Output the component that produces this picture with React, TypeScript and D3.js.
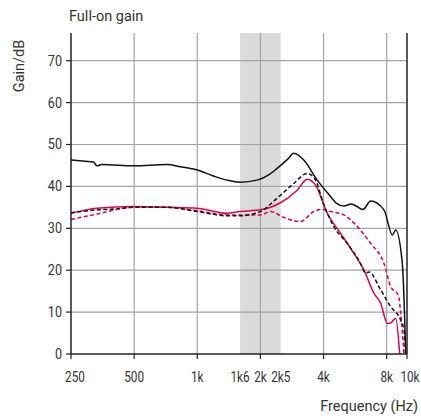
import React from 'react'
import * as d3 from 'd3'

// frequency (Hz), gain (dB)
const blackSolid: [number, number][] = [
  [250, 46.3], [291, 46], [320, 45.8], [333, 44.9], [350, 45.2], [500, 44.9],
  [716, 45.2], [830, 44.7], [1000, 43.9], [1193, 42.5], [1386, 41.5], [1600, 41],
  [1928, 41.5], [2200, 42.8], [2403, 44.3], [2700, 46.5], [2885, 47.9], [3220, 46.3],
  [3732, 41.5], [4320, 37.6], [4600, 36], [5000, 35.3], [5420, 35.8], [6170, 34.5],
  [6708, 36.5], [7765, 34.4], [8518, 28.4], [8833, 29.6], [9500, 21.6], [9862, 0],
]
const blackDashed: [number, number][] = [
  [250, 33.7], [333, 34.4], [400, 34.6], [500, 35], [716, 35], [1000, 34],
  [1386, 33], [1600, 33], [2000, 34], [2403, 37.2], [2885, 40.7], [3343, 43.1],
  [3663, 41.5], [4014, 35.6], [4480, 30.4], [5192, 26.4], [6010, 21.6], [6350, 19.3],
  [6585, 19.6], [7490, 15.3], [8358, 11.3], [9332, 8.1], [9676, 5.7], [9862, 0],
]
const redSolid: [number, number][] = [
  [250, 33.6], [332, 34.8], [495, 35.2], [716, 35], [997, 34.8], [1386, 33.6],
  [1600, 34], [2000, 34.4], [2492, 36.1], [2995, 39.1], [3343, 41.7], [3663, 40.3],
  [4167, 33.6], [4823, 28.8], [5583, 24], [6232, 20], [6956, 14.5], [7490, 12.1],
  [8062, 7.3], [8400, 7.5], [8833, 8.5], [9230, 0],
]
const redDashed: [number, number][] = [
  [250, 32.1], [332, 33.4], [495, 35], [716, 35], [997, 34.2], [1386, 33.2],
  [1600, 33.2], [2000, 33.2], [2233, 34], [2585, 32.6], [3106, 31.6], [3595, 34],
  [3942, 34.5], [4320, 34], [5000, 33.2], [5796, 30.4], [6708, 26.4], [7765, 21.6],
  [8358, 16.1], [9100, 14], [9332, 9.7], [9676, 0],
]

const xTicks = [250, 500, 1000, 1600, 2000, 2500, 4000, 8000, 10000]
const xTickLabels = ['250', '500', '1k', '1k6', '2k', '2k5', '4k', '8k', '10k']
const xTickMarks = [250, 500, 1000, 2000, 4000, 8000, 10000]
const xGrid = [500, 1000, 2000, 4000, 8000]
const yTicks = [0, 10, 20, 30, 40, 50, 60, 70]
const band = [1600, 2500]

const RED = '#e2004a'
const GRID = '#a3a3a3'
const TEXT = '#333'

const App = () => {
  const width = 421
  const height = 418
  const left = 71
  const right = 407
  const top = 33
  const bottom = 354

  const x = d3.scaleLog().domain([250, 10000]).range([left, right])
  const y = d3.scaleLinear().domain([0, 10]).range([bottom, bottom - 41.9])
  const yTop = y.invert(top)

  const line = d3
    .line<[number, number]>()
    .x((d) => x(d[0]))
    .y((d) => y(d[1]))
    .curve(d3.curveMonotoneX)

  const series = [
    { data: blackSolid, color: '#111', dash: undefined },
    { data: redDashed, color: RED, dash: '4 2.5' },
    { data: redSolid, color: RED, dash: undefined },
    { data: blackDashed, color: '#111', dash: '4 2.5' },
  ]

  const font = 'Roboto, "Liberation Sans", sans-serif'

  return (
    <svg
      width={width}
      height={height}
      style={{ position: 'absolute', left: 0, top: 0, background: '#fff' }}
    >
      <rect
        x={x(band[0])}
        y={y(yTop)}
        width={x(band[1]) - x(band[0])}
        height={y(0) - y(yTop)}
        fill='#d9dbdb'
      />
      {yTicks
        .filter((t) => t > 0)
        .map((t) => (
          <line key={'h' + t} x1={left} x2={right} y1={y(t)} y2={y(t)} stroke={GRID} strokeWidth={1.2} />
        ))}
      {xGrid.map((f) => (
        <line key={'v' + f} x1={x(f)} x2={x(f)} y1={top} y2={bottom} stroke={GRID} strokeWidth={1.2} />
      ))}
      {series.map((s, i) => (
        <path
          key={i}
          d={line(s.data) || ''}
          fill='none'
          stroke={s.color}
          strokeWidth={1.5}
          strokeDasharray={s.dash}
        />
      ))}
      <line x1={left} x2={left} y1={top} y2={bottom} stroke='#222' strokeWidth={1.5} />
      <line x1={right} x2={right} y1={top} y2={bottom} stroke='#222' strokeWidth={1.5} />
      <line x1={left} x2={right} y1={bottom} y2={bottom} stroke='#222' strokeWidth={1.5} />
      {yTicks.map((t) => (
        <g key={'y' + t}>
          <line x1={left - 5} x2={left} y1={y(t)} y2={y(t)} stroke='#222' strokeWidth={1.2} />
          <text
            transform={`translate(${left - 9},${y(t)}) scale(0.9,1)`}
            dy='0.35em'
            textAnchor='end'
            fontFamily={font}
            fontSize={14}
            fill={TEXT}
          >
            {t}
          </text>
        </g>
      ))}
      {xTickMarks.map((f) => (
        <line key={'xt' + f} x1={x(f)} x2={x(f)} y1={bottom} y2={bottom + 5} stroke='#222' strokeWidth={1.2} />
      ))}
      {xTicks.map((f, i) => (
        <text
          key={'xl' + f}
          transform={`translate(${x(f) + (f === 250 ? 4 : f === 10000 ? 3 : 0)},${bottom + 23}) scale(0.84,1)`}
          dy='0.35em'
          textAnchor='middle'
          fontFamily={font}
          fontSize={14}
          fill={TEXT}
        >
          {xTickLabels[i]}
        </text>
      ))}
      <text x={69} y={21} fontFamily={font} fontSize={14.5} fill={TEXT}>
        Full-on gain
      </text>
      <text
        transform='translate(24, 66) rotate(-90)'
        textAnchor='middle'
        fontFamily={font}
        fontSize={14.5}
        fill={TEXT}
      >
        Gain/dB
      </text>
      <text x={418} y={411} textAnchor='end' fontFamily={font} fontSize={14.5} fill={TEXT}>
        Frequency (Hz)
      </text>
    </svg>
  )
}

export default App
